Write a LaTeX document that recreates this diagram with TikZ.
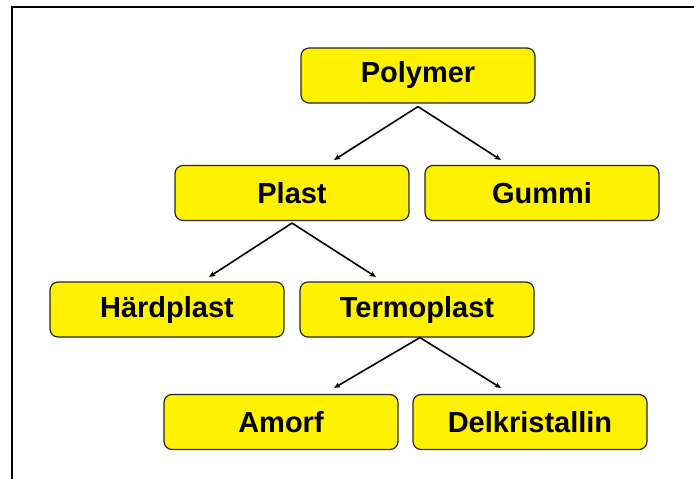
\documentclass[tikz,border=0pt]{standalone}
\usepackage{fontspec}
\setmainfont{Liberation Sans}
\usetikzlibrary{arrows.meta}
\begin{document}
\begin{tikzpicture}[x=1pt,y=-1pt,
  box/.style={draw=black!85, fill=yellow, line width=1.2pt, rounded corners=8pt,
    minimum width=234pt, minimum height=55pt, inner sep=0pt,
    font=\fontsize{29}{31}\selectfont\bfseries},
  conn/.style={line width=1.6pt, -{Stealth[length=6.5pt,width=5.5pt]}}]
\useasboundingbox (0,0) rectangle (694,479);
\fill[white] (0,0) rectangle (694,479);
\draw[line width=2.2pt] (12,479) -- (12,7) -- (694,7);
\node[box] (polymer) at (418,75.5) {Polymer};
\node[box] (plast) at (292,193) {Plast};
\node[box] (gummi) at (542,193) {Gummi};
\node[box] (hard) at (167,309.5) {Härdplast};
\node[box] (termo) at (417,309.5) {Termoplast};
\node[box] (amorf) at (281,422) {Amorf};
\node[box] (delk) at (530,422) {Delkristallin};
\coordinate (p1) at (334,160);
\coordinate (p2) at (501,160);
\coordinate (q1) at (209,277);
\coordinate (q2) at (376,277);
\coordinate (r1) at (334,388);
\coordinate (r2) at (501,388);
\coordinate (pa) at ([yshift=-3pt]polymer.south);
\coordinate (qa) at ([yshift=-2pt]plast.south);
\coordinate (ra) at ([xshift=3pt,yshift=-0pt]termo.south);
\draw[conn] (pa) -- (p1);
\draw[conn] (pa) -- (p2);
\draw[conn] (qa) -- (q1);
\draw[conn] (qa) -- (q2);
\draw[conn] (ra) -- (r1);
\draw[conn] (ra) -- (r2);
\end{tikzpicture}
\end{document}
